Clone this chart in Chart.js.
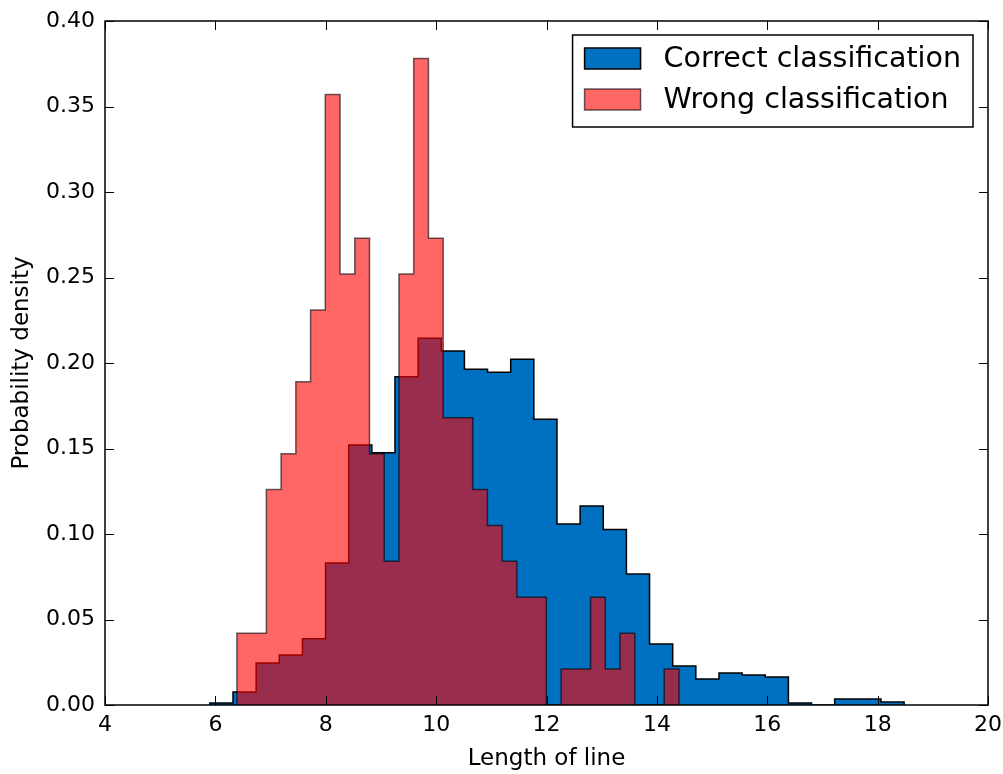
<!DOCTYPE html>
<html>
<head>
<meta charset="utf-8">
<script src="https://cdn.jsdelivr.net/npm/chart.js@4/dist/chart.umd.min.js"></script>
<style>
  body { margin: 0; background: #fff; }
</style>
</head>
<body>
<canvas id="myChart" width="1003" height="774"></canvas>
<script>
// data (density histograms, 30 bins each)

const xTicks = [4, 6, 8, 10, 12, 14, 16, 18, 20];
const yTicks = [0, 0.05, 0.1, 0.15, 0.2, 0.25, 0.3, 0.35, 0.4];

const correctRange = [5.90, 18.48];
const correctDensity = [
  0.0012, 0.0076, 0.0246, 0.0293, 0.0387, 0.083, 0.152, 0.1475, 0.192, 0.2145,
  0.207, 0.1963, 0.1946, 0.2022, 0.1671, 0.1058, 0.1164, 0.1027, 0.0766, 0.0357,
  0.0228, 0.0152, 0.0187, 0.0176, 0.0164, 0.0012, 0, 0.0035, 0.0035, 0.0018
];

const wrongRange = [6.39, 14.40];
const wrongDensity = [
  0.042, 0.042, 0.126, 0.147, 0.189, 0.231, 0.357, 0.252, 0.273, 0.147,
  0.084, 0.252, 0.378, 0.273, 0.168, 0.168, 0.126, 0.105, 0.084, 0.063,
  0.063, 0, 0.021, 0.021, 0.063, 0.021, 0.042, 0, 0, 0.021
];

const labels = ["Correct classification", "Wrong classification"];

// one point per bin at its left edge, drawn with stepped: 'before'
function stepPoints(range, values) {
  const w = (range[1] - range[0]) / values.length;
  const pts = [{ x: range[0], y: 0 }];
  values.forEach((v, i) => {
    pts.push({ x: range[0] + i * w, y: v });
  });
  pts.push({ x: range[1], y: 0 });
  return pts;
}

const FONT = "'DejaVu Sans', sans-serif";

// frame, inward ticks on all sides and a boxed legend like matplotlib
const framePlugin = {
  id: "frame",
  afterDraw(chart) {
    const ctx = chart.ctx;
    const a = chart.chartArea;
    const xs = chart.scales.x;
    const ys = chart.scales.y;
    const tl = 9;
    ctx.save();
    ctx.strokeStyle = "#000";
    ctx.lineWidth = 1.5;
    ctx.strokeRect(a.left, a.top, a.right - a.left, a.bottom - a.top);
    ctx.lineWidth = 1;
    ctx.beginPath();
    xTicks.forEach((v) => {
      const px = Math.round(xs.getPixelForValue(v)) + 0.5;
      ctx.moveTo(px, a.bottom); ctx.lineTo(px, a.bottom - tl);
      ctx.moveTo(px, a.top); ctx.lineTo(px, a.top + tl);
    });
    yTicks.forEach((v) => {
      const py = Math.round(ys.getPixelForValue(v)) + 0.5;
      ctx.moveTo(a.left, py); ctx.lineTo(a.left + tl, py);
      ctx.moveTo(a.right, py); ctx.lineTo(a.right - tl, py);
    });
    ctx.stroke();

    // legend
    ctx.font = "28.5px " + FONT;
    const widths = labels.map((t) => ctx.measureText(t).width);
    const boxW = 12 + 79 + Math.max(...widths) + 12;
    const boxH = 92;
    const bx = a.right - 15 - boxW;
    const by = a.top + 14;
    ctx.fillStyle = "#fff";
    ctx.fillRect(bx, by, boxW, boxH);
    ctx.lineWidth = 1.5;
    ctx.strokeStyle = "#000";
    ctx.strokeRect(bx, by, boxW, boxH);
    const dsets = chart.data.datasets;
    [0, 1].forEach((i) => {
      const ds = dsets[i];
      const cy = by + 23.5 + i * 41;
      ctx.fillStyle = ds.backgroundColor;
      ctx.fillRect(bx + 12, cy - 10.5, 56, 21);
      ctx.lineWidth = 1.5;
      ctx.strokeStyle = ds.borderColor;
      ctx.strokeRect(bx + 12, cy - 10.5, 56, 21);
      ctx.fillStyle = "#000";
      ctx.textBaseline = "middle";
      ctx.textAlign = "left";
      ctx.fillText(ds.label, bx + 12 + 79, cy + 1);
    });
    ctx.restore();
  },
};

const ctx = document.getElementById("myChart").getContext("2d");

const myChart = new Chart(ctx, {
  type: "line",
  data: {
    datasets: [
      {
        label: labels[0],
        data: stepPoints(correctRange, correctDensity),
        backgroundColor: "#0070c0",
        borderColor: "#000000",
        borderWidth: 1.5,
        fill: "origin",
        stepped: "before",
        pointRadius: 0,
        order: 1,
      },
      {
        label: labels[1],
        data: stepPoints(wrongRange, wrongDensity),
        backgroundColor: "rgba(255, 0, 0, 0.6)",
        borderColor: "rgba(0, 0, 0, 0.6)",
        borderWidth: 1.5,
        fill: "origin",
        stepped: "before",
        pointRadius: 0,
        order: 0,
      },
    ],
  },
  options: {
    responsive: false,
    animation: false,
    layout: { padding: { left: 0, right: 15, top: 21, bottom: 0 } },
    plugins: {
      legend: { display: false },
      tooltip: { enabled: false },
    },
    scales: {
      x: {
        type: "linear",
        min: 4,
        max: 20,
        afterBuildTicks: (scale) => { scale.ticks = xTicks.map((v) => ({ value: v })); },
        afterFit: (scale) => {
          scale.height = 69;
          scale.paddingLeft = 0;
          scale.paddingRight = 0;
        },
        grid: { display: false, drawTicks: false },
        border: { display: false },
        ticks: {
          padding: 7,
          color: "#000",
          font: { family: FONT, size: 22 },
          callback: (v) => String(v),
        },
        title: {
          display: true,
          text: "Length of line",
          color: "#000",
          font: { family: FONT, size: 23 },
          padding: { top: 0, bottom: 1 },
        },
      },
      y: {
        min: 0,
        max: 0.4,
        afterBuildTicks: (scale) => { scale.ticks = yTicks.map((v) => ({ value: v })); },
        afterFit: (scale) => {
          scale.width = 105;
          scale.paddingTop = 0;
          scale.paddingBottom = 0;
        },
        grid: { display: false, drawTicks: false },
        border: { display: false },
        ticks: {
          padding: 10,
          color: "#000",
          font: { family: FONT, size: 22 },
          callback: (v) => v.toFixed(2),
        },
        title: {
          display: true,
          text: "Probability density",
          color: "#000",
          font: { family: FONT, size: 23 },
          padding: { top: 8, bottom: 0 },
        },
      },
    },
  },
  plugins: [framePlugin],
});
</script>
</body>
</html>
